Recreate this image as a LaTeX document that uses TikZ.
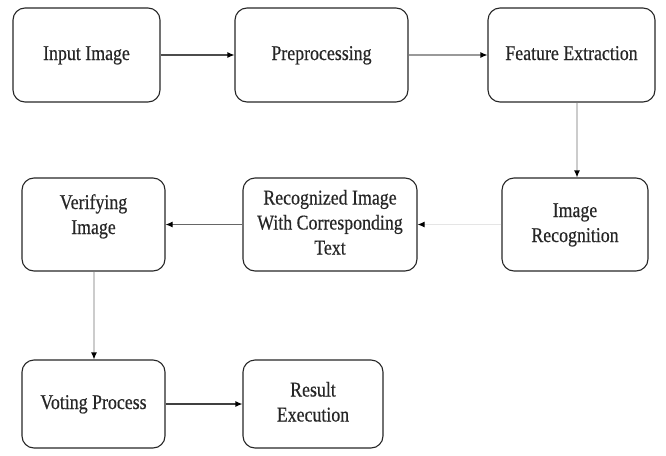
\documentclass[tikz,border=0pt]{standalone}
\usepackage{fontspec}
\setmainfont{Liberation Serif}[FakeBold=0.5]
\usetikzlibrary{arrows.meta}
\newcommand{\sq}[1]{\scalebox{0.85}[1]{\begin{tabular}{@{}c@{}}#1\end{tabular}}}
\begin{document}
\begin{tikzpicture}[x=1pt,y=-1pt,
  box/.style={draw=black!85,line width=1.1pt,rounded corners=12pt,align=center,
    inner sep=0pt,font=\fontsize{21}{25}\selectfont,text=black!85},
  conn/.style={line width=1.1pt,-{Latex[length=7pt,width=6pt,black]}},
]
\useasboundingbox (0,0) rectangle (666,455);
\node[box,minimum width=147pt,minimum height=94pt] (in) at (86.5,55) {\sq{Input Image}};
\node[box,minimum width=173pt,minimum height=94pt] (pre) at (321.5,55) {\sq{Preprocessing}};
\node[box,minimum width=167pt,minimum height=94pt] (fe) at (571.5,55) {\sq{Feature Extraction}};
\node[box,minimum width=146pt,minimum height=93pt] (ir) at (575,224.5) {\sq{Image\\Recognition}};
\node[box,minimum width=174pt,minimum height=93pt] (rit) at (330,224.5) {\sq{Recognized Image\\With Corresponding\\Text}};
\node[box,minimum width=143pt,minimum height=93pt] (vi) at (93.5,224.5) {\sq{Verifying\\Image\\[16pt]}};
\node[box,minimum width=143pt,minimum height=88pt] (vp) at (93.5,404) {\sq{Voting Process}};
\node[box,minimum width=140pt,minimum height=88pt] (re) at (313,404) {\sq{Result\\Execution}};
\draw[conn,draw=black!70] (in) -- (pre);
\draw[conn,draw=black!40] (pre) -- (fe);
\draw[conn,draw=black!20] (fe.south -| 577,0) -- (ir.north -| 577,0);
\draw[conn,draw=black!10] (ir.west) -- (rit.east);
\draw[conn,draw=black!60] (rit.west) -- (vi.east);
\draw[conn,draw=black!20] (vi.south -| 94,0) -- (vp.north -| 94,0);
\draw[conn,draw=black!75] (vp) -- (re);
\end{tikzpicture}
\end{document}
